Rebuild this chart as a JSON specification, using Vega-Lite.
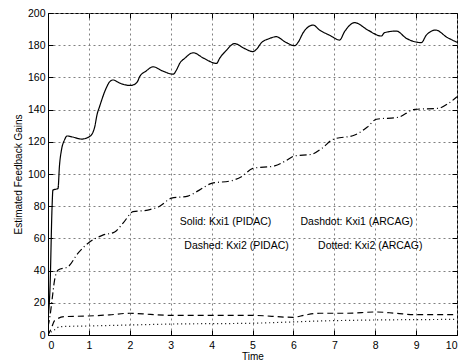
{
  "$schema": "https://vega.github.io/schema/vega-lite/v6.json",
  "width": 409,
  "height": 322,
  "autosize": "none",
  "padding": {"left": 48, "top": 13, "right": 6, "bottom": 27},
  "background": "white",
  "config": {
    "view": {"stroke": "black", "strokeWidth": 1},
    "font": "Liberation Sans",
    "axis": {
      "domainColor": "black",
      "tickColor": "black",
      "labelColor": "black",
      "titleColor": "black",
      "labelFont": "Liberation Sans",
      "titleFont": "Liberation Sans",
      "labelFontSize": 10.5,
      "titleFontSize": 10,
      "titleFontWeight": "normal",
      "tickSize": -5,
      "gridColor": "#808080",
      "gridOpacity": 1,
      "gridDash": [2, 3],
      "gridWidth": 1
    }
  },
  "resolve": {"axis": {"x": "independent", "y": "independent"}},
  "layer": [
    {
      "data": {"values": [
        {"s":"Solid","t":0,"v":10},{"s":"Solid","t":0.05,"v":30},{"s":"Solid","t":0.1,"v":80},{"s":"Solid","t":0.12,"v":90},{"s":"Solid","t":0.245,"v":91},{"s":"Solid","t":0.28,"v":105},{"s":"Solid","t":0.33,"v":115},{"s":"Solid","t":0.4,"v":121},{"s":"Solid","t":0.47,"v":123.6},{"s":"Solid","t":0.6,"v":123},{"s":"Solid","t":0.82,"v":121.7},{"s":"Solid","t":1.0,"v":123},{"s":"Solid","t":1.1,"v":126},{"s":"Solid","t":1.14,"v":129},{"s":"Solid","t":1.2,"v":137},{"s":"Solid","t":1.26,"v":141.8},{"s":"Solid","t":1.4,"v":152},{"s":"Solid","t":1.5,"v":157},{"s":"Solid","t":1.59,"v":158.4},{"s":"Solid","t":1.75,"v":156.5},{"s":"Solid","t":2.0,"v":155},{"s":"Solid","t":2.1,"v":155.5},{"s":"Solid","t":2.2,"v":158},{"s":"Solid","t":2.24,"v":160.4},{"s":"Solid","t":2.4,"v":164},{"s":"Solid","t":2.57,"v":166.6},{"s":"Solid","t":2.8,"v":164},{"s":"Solid","t":3.06,"v":162},{"s":"Solid","t":3.15,"v":165},{"s":"Solid","t":3.22,"v":168.7},{"s":"Solid","t":3.34,"v":171.8},{"s":"Solid","t":3.55,"v":175.3},{"s":"Solid","t":3.8,"v":172},{"s":"Solid","t":4.12,"v":168.7},{"s":"Solid","t":4.2,"v":172},{"s":"Solid","t":4.35,"v":176.5},{"s":"Solid","t":4.56,"v":181},{"s":"Solid","t":4.8,"v":178},{"s":"Solid","t":5.01,"v":176},{"s":"Solid","t":5.1,"v":177.5},{"s":"Solid","t":5.22,"v":181.6},{"s":"Solid","t":5.4,"v":184},{"s":"Solid","t":5.58,"v":185.3},{"s":"Solid","t":5.8,"v":182},{"s":"Solid","t":6.03,"v":179.7},{"s":"Solid","t":6.12,"v":182},{"s":"Solid","t":6.24,"v":187.8},{"s":"Solid","t":6.48,"v":192.5},{"s":"Solid","t":6.64,"v":189.4},{"s":"Solid","t":6.9,"v":186},{"s":"Solid","t":7.13,"v":183.2},{"s":"Solid","t":7.25,"v":188.4},{"s":"Solid","t":7.5,"v":194},{"s":"Solid","t":7.82,"v":189.4},{"s":"Solid","t":8.15,"v":185.7},{"s":"Solid","t":8.23,"v":187.8},{"s":"Solid","t":8.52,"v":188.8},{"s":"Solid","t":8.76,"v":184.3},{"s":"Solid","t":9.13,"v":181.6},{"s":"Solid","t":9.25,"v":186.3},{"s":"Solid","t":9.48,"v":189.4},{"s":"Solid","t":9.75,"v":185},{"s":"Solid","t":10,"v":181.8},
        {"s":"Dashdot","t":0,"v":5},{"s":"Dashdot","t":0.05,"v":12},{"s":"Dashdot","t":0.1,"v":22},{"s":"Dashdot","t":0.16,"v":34},{"s":"Dashdot","t":0.25,"v":40.4},{"s":"Dashdot","t":0.49,"v":42.4},{"s":"Dashdot","t":0.73,"v":50.7},{"s":"Dashdot","t":0.98,"v":57},{"s":"Dashdot","t":1.34,"v":62},{"s":"Dashdot","t":1.63,"v":64},{"s":"Dashdot","t":1.85,"v":70},{"s":"Dashdot","t":2.08,"v":76.6},{"s":"Dashdot","t":2.44,"v":77.6},{"s":"Dashdot","t":2.73,"v":80},{"s":"Dashdot","t":3.02,"v":85},{"s":"Dashdot","t":3.42,"v":86.3},{"s":"Dashdot","t":3.7,"v":90},{"s":"Dashdot","t":4.0,"v":94.2},{"s":"Dashdot","t":4.48,"v":95.8},{"s":"Dashdot","t":4.73,"v":98.3},{"s":"Dashdot","t":5.01,"v":103.5},{"s":"Dashdot","t":5.54,"v":105},{"s":"Dashdot","t":5.8,"v":108},{"s":"Dashdot","t":6.03,"v":111.2},{"s":"Dashdot","t":6.44,"v":112.2},{"s":"Dashdot","t":6.7,"v":116},{"s":"Dashdot","t":6.97,"v":121.5},{"s":"Dashdot","t":7.5,"v":124.2},{"s":"Dashdot","t":7.8,"v":129},{"s":"Dashdot","t":8.03,"v":134},{"s":"Dashdot","t":8.56,"v":135.2},{"s":"Dashdot","t":8.97,"v":140.2},{"s":"Dashdot","t":9.54,"v":140.8},{"s":"Dashdot","t":9.8,"v":144},{"s":"Dashdot","t":10,"v":148},
        {"s":"Dashed","t":0,"v":0},{"s":"Dashed","t":0.08,"v":4},{"s":"Dashed","t":0.16,"v":8.9},{"s":"Dashed","t":0.41,"v":11.4},{"s":"Dashed","t":0.98,"v":11.8},{"s":"Dashed","t":1.5,"v":12.5},{"s":"Dashed","t":2.0,"v":13.5},{"s":"Dashed","t":2.5,"v":12.8},{"s":"Dashed","t":3.02,"v":12.2},{"s":"Dashed","t":4.0,"v":12.2},{"s":"Dashed","t":4.97,"v":12.2},{"s":"Dashed","t":5.99,"v":11},{"s":"Dashed","t":6.3,"v":12.5},{"s":"Dashed","t":6.64,"v":13.5},{"s":"Dashed","t":7.3,"v":13.5},{"s":"Dashed","t":8.03,"v":14.3},{"s":"Dashed","t":8.5,"v":13.5},{"s":"Dashed","t":9.0,"v":12.6},{"s":"Dashed","t":10,"v":12.6},
        {"s":"Dotted","t":0,"v":0},{"s":"Dotted","t":0.08,"v":2},{"s":"Dotted","t":0.15,"v":3},{"s":"Dotted","t":0.29,"v":5.2},{"s":"Dotted","t":0.98,"v":5.6},{"s":"Dotted","t":2.0,"v":6.2},{"s":"Dotted","t":3.02,"v":6.8},{"s":"Dotted","t":4.97,"v":7.3},{"s":"Dotted","t":6.97,"v":8.9},{"s":"Dotted","t":10,"v":9.7}
      ]},
      "mark": {"type": "line", "color": "black", "strokeWidth": 1.2, "interpolate": "monotone", "clip": true},
      "encoding": {
        "x": {"field": "t", "type": "quantitative", "scale": {"domain": [0, 10], "nice": false},
              "axis": {"title": "Time", "values": [0,1,2,3,4,5,6,7,8,9,10], "grid": true, "labelPadding": 10, "titlePadding": 1}},
        "y": {"field": "v", "type": "quantitative", "scale": {"domain": [0, 200], "nice": false},
              "axis": {"title": "Estimated Feedback Gains", "values": [0,20,40,60,80,100,120,140,160,180,200], "grid": true, "labelPadding": 8, "titlePadding": 4}},
        "strokeDash": {"field": "s", "type": "nominal", "legend": null,
          "scale": {"domain": ["Solid", "Dashdot", "Dashed", "Dotted"], "range": [[1, 0], [7, 3, 1, 3], [6, 4], [1, 3]]}}
      }
    },
    {
      "data": {"values": [
        {"label": "Solid: Kxi1 (PIDAC)", "t": 4.34, "v": 70},
        {"label": "Dashdot: Kxi1 (ARCAG)", "t": 7.55, "v": 70},
        {"label": "Dashed: Kxi2 (PIDAC)", "t": 4.61, "v": 55},
        {"label": "Dotted: Kxi2 (ARCAG)", "t": 7.88, "v": 55}
      ]},
      "mark": {"type": "text", "font": "Liberation Sans", "fontSize": 10.5, "color": "black", "align": "center", "baseline": "middle"},
      "encoding": {
        "x": {"field": "t", "type": "quantitative",
              "axis": {"orient": "top", "labels": false, "title": null, "grid": false, "domain": false, "values": [0,1,2,3,4,5,6,7,8,9,10]}},
        "y": {"field": "v", "type": "quantitative",
              "axis": {"orient": "right", "labels": false, "title": null, "grid": false, "domain": false, "values": [0,20,40,60,80,100,120,140,160,180,200]}},
        "text": {"field": "label"}
      }
    }
  ]
}
